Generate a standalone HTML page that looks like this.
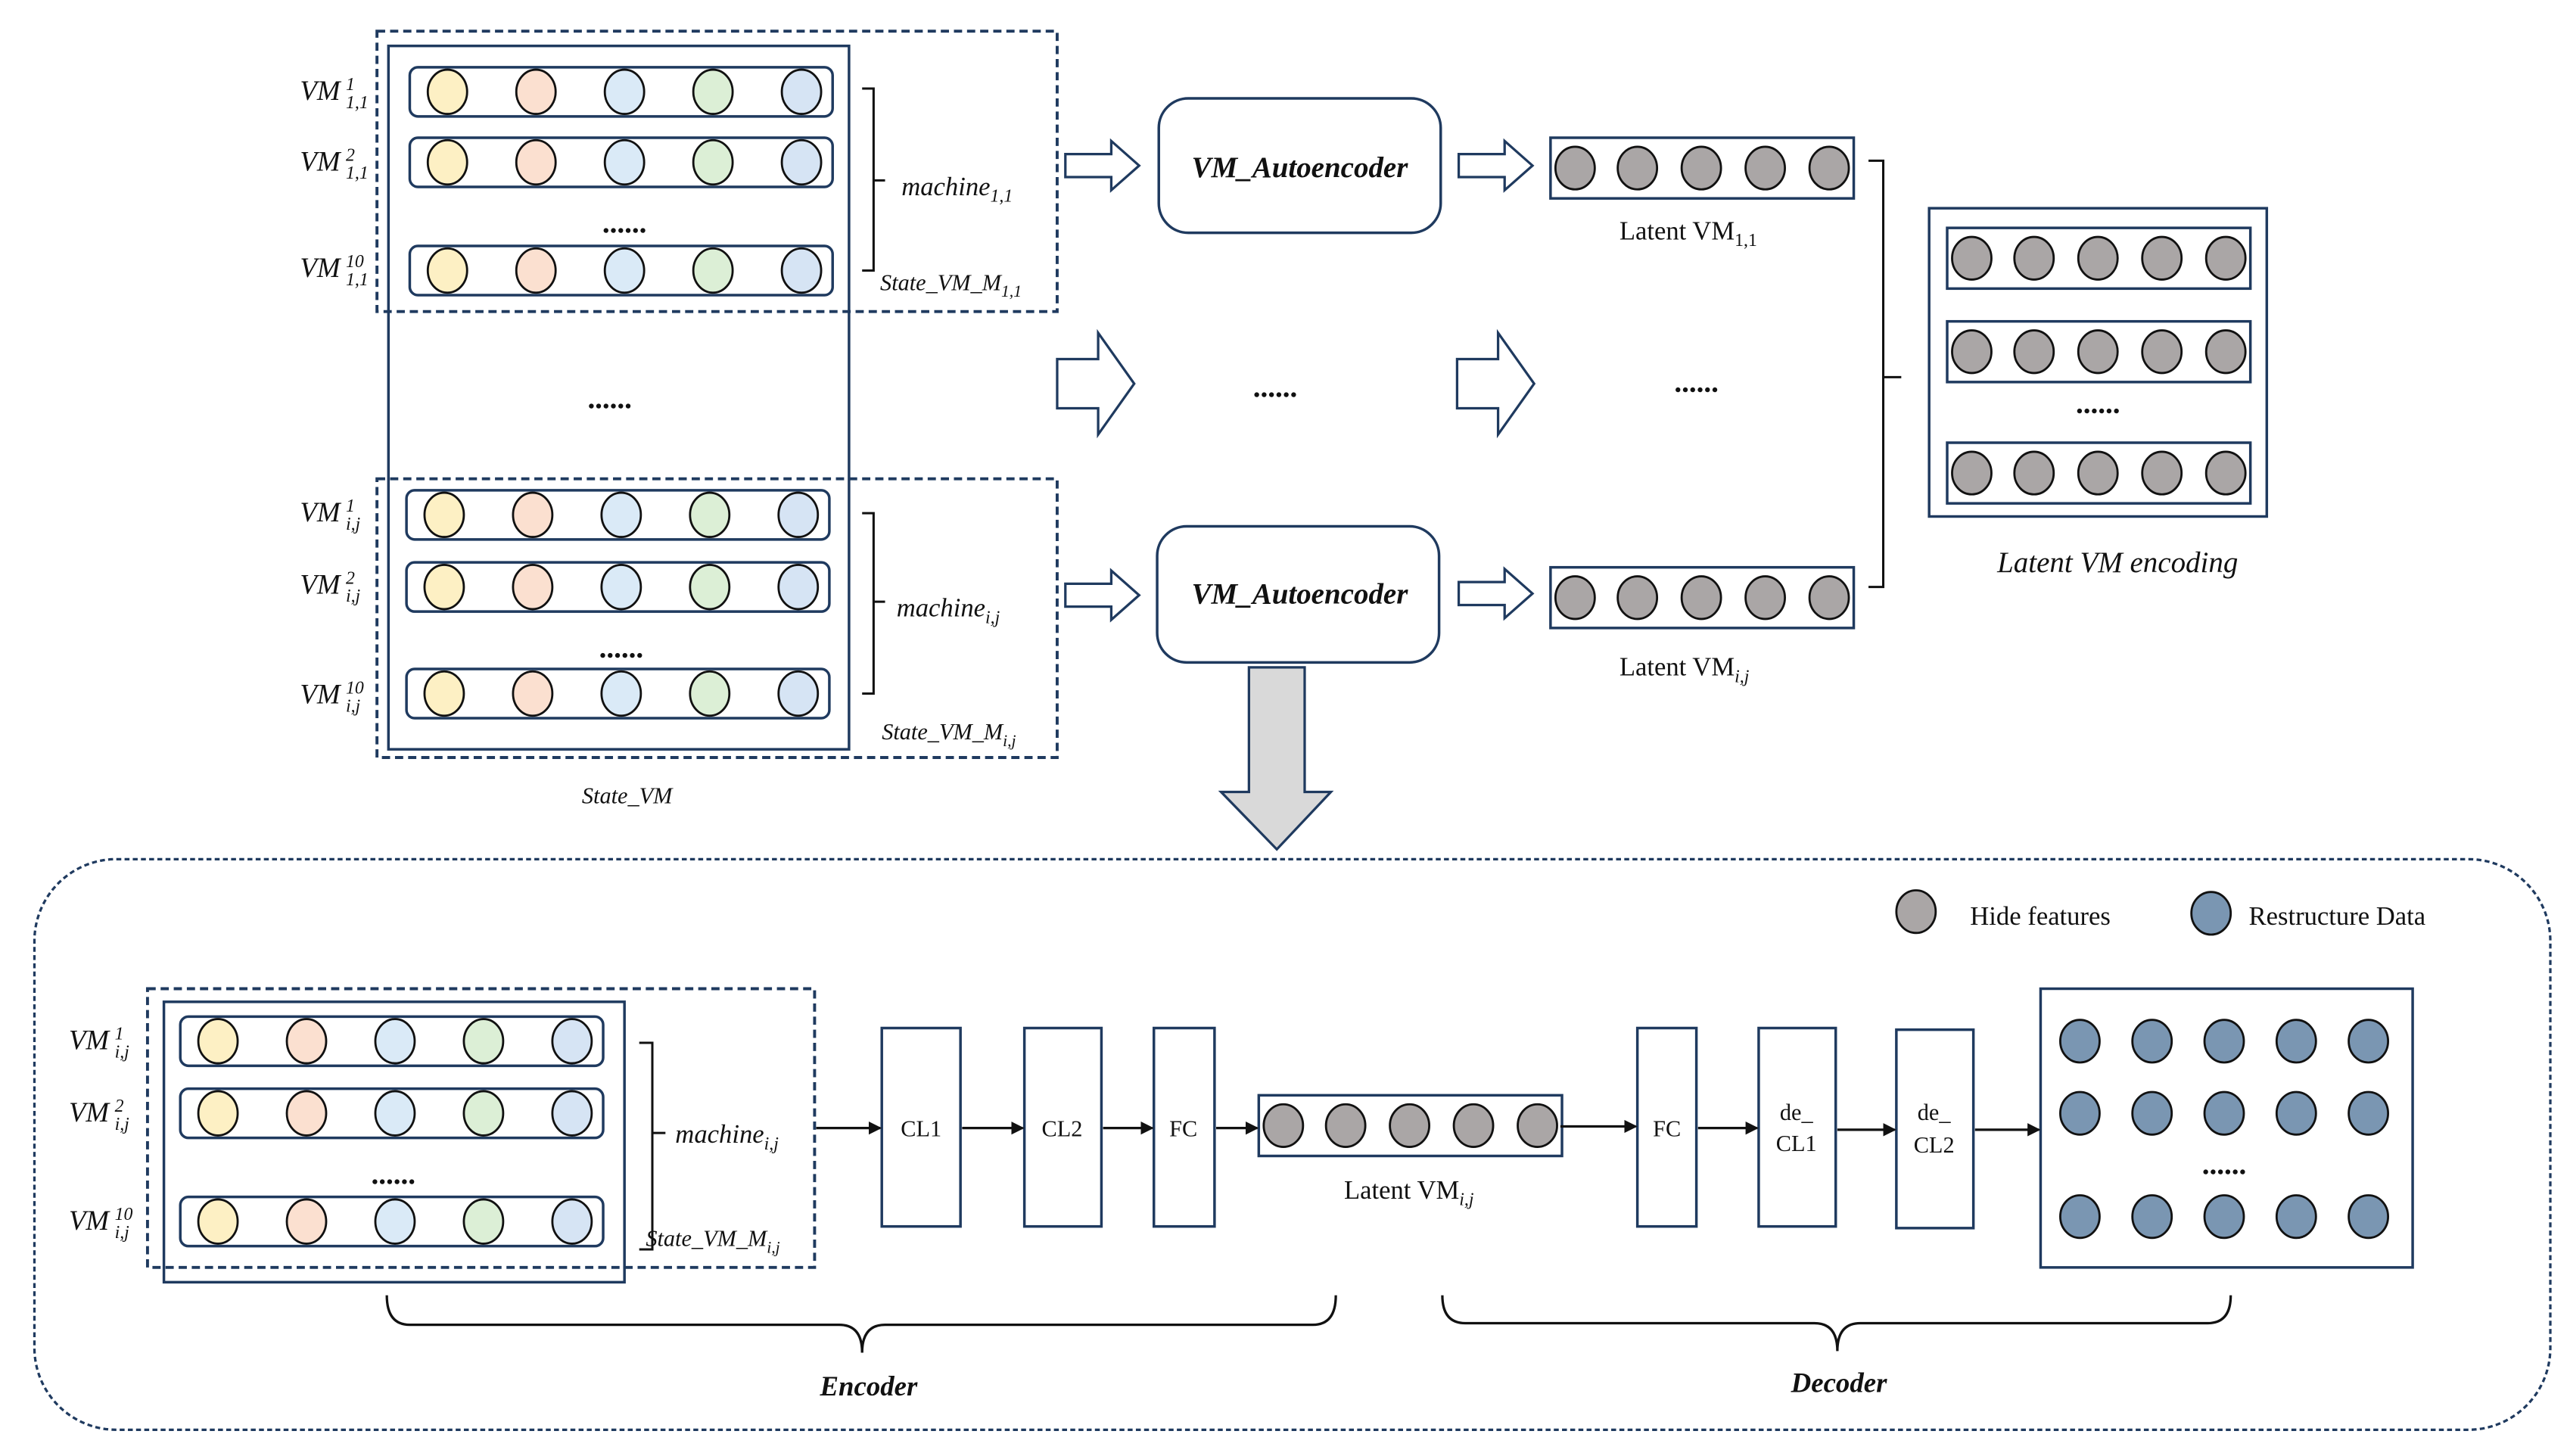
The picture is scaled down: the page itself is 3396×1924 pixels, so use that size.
<!DOCTYPE html>
<html><head><meta charset="utf-8"><style>
html,body{margin:0;padding:0;background:#fff;}
svg{display:block;}
text{font-family:"Liberation Serif",serif;fill:#111;}
.it{font-style:italic;}
</style></head><body>
<svg width="3396" height="1924" viewBox="0 0 1568 888" preserveAspectRatio="none" xmlns="http://www.w3.org/2000/svg">
<defs>
<g id="crow">
<rect x="0" y="0" width="258" height="30" rx="5" fill="#fff" stroke="#1f3a5f" stroke-width="1.6"/>
<ellipse cx="23" cy="15" rx="12" ry="13.5" fill="#fdf0c4" stroke="#111" stroke-width="1.3"/>
<ellipse cx="77" cy="15" rx="12" ry="13.5" fill="#fbe0d0" stroke="#111" stroke-width="1.3"/>
<ellipse cx="131" cy="15" rx="12" ry="13.5" fill="#daeaf7" stroke="#111" stroke-width="1.3"/>
<ellipse cx="185" cy="15" rx="12" ry="13.5" fill="#dcefd6" stroke="#111" stroke-width="1.3"/>
<ellipse cx="239" cy="15" rx="12" ry="13.5" fill="#d6e4f4" stroke="#111" stroke-width="1.3"/>
</g>
<g id="grow">
<rect x="0" y="0" width="185" height="37" fill="#fff" stroke="#1f3a5f" stroke-width="1.6"/>
<ellipse cx="15" cy="18.5" rx="12" ry="13" fill="#aaa6a6" stroke="#111" stroke-width="1.3"/>
<ellipse cx="53" cy="18.5" rx="12" ry="13" fill="#aaa6a6" stroke="#111" stroke-width="1.3"/>
<ellipse cx="92" cy="18.5" rx="12" ry="13" fill="#aaa6a6" stroke="#111" stroke-width="1.3"/>
<ellipse cx="131" cy="18.5" rx="12" ry="13" fill="#aaa6a6" stroke="#111" stroke-width="1.3"/>
<ellipse cx="170" cy="18.5" rx="12" ry="13" fill="#aaa6a6" stroke="#111" stroke-width="1.3"/>
</g>
<path id="sarr" d="M0,-7 L28,-7 L28,-15 L45,0 L28,15 L28,7 L0,7 Z" fill="#fff" stroke="#1f3a5f" stroke-width="1.5"/>
<path id="barr" d="M0,-15 L25,-15 L25,-31 L47,0 L25,31 L25,15 L0,15 Z" fill="#fff" stroke="#1f3a5f" stroke-width="1.5"/>
<marker id="ah" markerWidth="8" markerHeight="8" refX="7" refY="4" orient="auto" markerUnits="userSpaceOnUse"><path d="M0,0 L8,4 L0,8 Z" fill="#111"/></marker>
<g id="brow">
<ellipse cx="0" cy="0" rx="12" ry="13" fill="#7a96b2" stroke="#111" stroke-width="1.3"/>
<ellipse cx="44" cy="0" rx="12" ry="13" fill="#7a96b2" stroke="#111" stroke-width="1.3"/>
<ellipse cx="88" cy="0" rx="12" ry="13" fill="#7a96b2" stroke="#111" stroke-width="1.3"/>
<ellipse cx="132" cy="0" rx="12" ry="13" fill="#7a96b2" stroke="#111" stroke-width="1.3"/>
<ellipse cx="176" cy="0" rx="12" ry="13" fill="#7a96b2" stroke="#111" stroke-width="1.3"/>
</g>
</defs>

<!-- TOP: State_VM -->
<rect x="237" y="28" width="281" height="429" fill="none" stroke="#1f3a5f" stroke-width="1.6"/>
<rect x="230" y="19" width="415" height="171" fill="none" stroke="#1f3a5f" stroke-width="1.8" stroke-dasharray="5,3"/>
<rect x="230" y="292" width="415" height="170" fill="none" stroke="#1f3a5f" stroke-width="1.8" stroke-dasharray="5,3"/>
<use href="#crow" x="250" y="41"/>
<use href="#crow" x="250" y="84"/>
<use href="#crow" x="250" y="150"/>
<use href="#crow" x="248" y="299"/>
<use href="#crow" x="248" y="343"/>
<use href="#crow" x="248" y="408"/>
<text x="381" y="142" font-size="18" text-anchor="middle" font-weight="bold">......</text>
<text x="372" y="249" font-size="18" text-anchor="middle" font-weight="bold">......</text>
<text x="379" y="401" font-size="18" text-anchor="middle" font-weight="bold">......</text>

<g class="it">
<text x="183" y="61" font-size="17">VM</text><text x="211" y="55" font-size="11">1</text><text x="211" y="66" font-size="11">1,1</text>
<text x="183" y="104" font-size="17">VM</text><text x="211" y="98" font-size="11">2</text><text x="211" y="109" font-size="11">1,1</text>
<text x="183" y="169" font-size="17">VM</text><text x="211" y="163" font-size="11">10</text><text x="211" y="174" font-size="11">1,1</text>
<text x="183" y="318" font-size="17">VM</text><text x="211" y="312" font-size="11">1</text><text x="211" y="323" font-size="11">i,j</text>
<text x="183" y="362" font-size="17">VM</text><text x="211" y="356" font-size="11">2</text><text x="211" y="367" font-size="11">i,j</text>
<text x="183" y="429" font-size="17">VM</text><text x="211" y="423" font-size="11">10</text><text x="211" y="434" font-size="11">i,j</text>
<text x="550" y="119" font-size="16">machine<tspan font-size="11" dy="4">1,1</tspan></text>
<text x="547" y="376" font-size="16">machine<tspan font-size="11" dy="4">i,j</tspan></text>
<text x="537" y="177" font-size="14">State_VM_M<tspan font-size="10" dy="4">1,1</tspan></text>
<text x="538" y="451" font-size="14">State_VM_M<tspan font-size="10" dy="4">i,j</tspan></text>
<text x="355" y="490" font-size="14">State_VM</text>
</g>
<path d="M526,54 L533,54 L533,165 L526,165 M533,110 L540,110" fill="none" stroke="#111" stroke-width="1.4"/>
<path d="M526,313 L533,313 L533,423 L526,423 M533,367 L540,367" fill="none" stroke="#111" stroke-width="1.4"/>

<!-- arrows -->
<use href="#sarr" x="650" y="101"/>
<use href="#sarr" x="890" y="101"/>
<use href="#barr" x="645" y="234"/>
<use href="#barr" x="889" y="234"/>
<use href="#sarr" x="650" y="363"/>
<use href="#sarr" x="890" y="362"/>

<rect x="707" y="60" width="172" height="82" rx="18" fill="#fff" stroke="#1f3a5f" stroke-width="1.6"/>
<rect x="706" y="321" width="172" height="83" rx="18" fill="#fff" stroke="#1f3a5f" stroke-width="1.6"/>
<text x="793" y="108" font-size="18" class="it" font-weight="bold" text-anchor="middle">VM_Autoencoder</text>
<text x="793" y="368" font-size="18" class="it" font-weight="bold" text-anchor="middle">VM_Autoencoder</text>
<text x="778" y="242" font-size="18" text-anchor="middle" font-weight="bold">......</text>
<text x="1035" y="239" font-size="18" text-anchor="middle" font-weight="bold">......</text>

<use href="#grow" x="946" y="84"/>
<use href="#grow" x="946" y="346"/>
<text x="988" y="146" font-size="16">Latent VM<tspan font-size="11" dy="4">1,1</tspan></text>
<text x="988" y="412" font-size="16">Latent VM<tspan font-size="11" dy="4" class="it">i,j</tspan></text>
<path d="M1140,98 L1149,98 L1149,358 L1140,358 M1149,230 L1160,230" fill="none" stroke="#111" stroke-width="1.4"/>

<rect x="1177" y="127" width="206" height="188" fill="#fff" stroke="#1f3a5f" stroke-width="1.6"/>
<use href="#grow" x="1188" y="139"/>
<use href="#grow" x="1188" y="196"/>
<use href="#grow" x="1188" y="270"/>
<text x="1280" y="252" font-size="18" text-anchor="middle" font-weight="bold">......</text>
<text x="1292" y="349" font-size="18" class="it" text-anchor="middle">Latent VM encoding</text>

<!-- down arrow -->
<path d="M762,407 L796,407 L796,483 L812,483 L779,518 L745,483 L762,483 Z" fill="#d9d9d9" stroke="#1f3a5f" stroke-width="1.5"/>

<!-- BOTTOM -->
<rect x="21" y="524" width="1535" height="348" rx="50" fill="none" stroke="#1f3a5f" stroke-width="1.5" stroke-dasharray="3,2"/>
<ellipse cx="1169" cy="556" rx="12" ry="13" fill="#aaa6a6" stroke="#111" stroke-width="1.3"/>
<text x="1202" y="564" font-size="16">Hide features</text>
<ellipse cx="1349" cy="557" rx="12" ry="13" fill="#7a96b2" stroke="#111" stroke-width="1.3"/>
<text x="1372" y="564" font-size="16">Restructure Data</text>

<rect x="100" y="611" width="281" height="171" fill="none" stroke="#1f3a5f" stroke-width="1.6"/>
<rect x="90" y="603" width="407" height="170" fill="none" stroke="#1f3a5f" stroke-width="1.8" stroke-dasharray="5,3"/>
<use href="#crow" x="110" y="620"/>
<use href="#crow" x="110" y="664"/>
<use href="#crow" x="110" y="730"/>
<text x="240" y="722" font-size="18" text-anchor="middle" font-weight="bold">......</text>
<g class="it">
<text x="42" y="640" font-size="17">VM</text><text x="70" y="634" font-size="11">1</text><text x="70" y="645" font-size="11">i,j</text>
<text x="42" y="684" font-size="17">VM</text><text x="70" y="678" font-size="11">2</text><text x="70" y="689" font-size="11">i,j</text>
<text x="42" y="750" font-size="17">VM</text><text x="70" y="744" font-size="11">10</text><text x="70" y="755" font-size="11">i,j</text>
<text x="412" y="697" font-size="16">machine<tspan font-size="11" dy="4">i,j</tspan></text>
<text x="394" y="760" font-size="14">State_VM_M<tspan font-size="10" dy="4">i,j</tspan></text>
</g>
<path d="M390,636 L398,636 L398,762 L390,762 M398,691 L406,691" fill="none" stroke="#111" stroke-width="1.4"/>

<g fill="#fff" stroke="#1f3a5f" stroke-width="1.6">
<rect x="538" y="627" width="48" height="121"/>
<rect x="625" y="627" width="47" height="121"/>
<rect x="704" y="627" width="37" height="121"/>
<rect x="999" y="627" width="36" height="121"/>
<rect x="1073" y="627" width="47" height="121"/>
<rect x="1157" y="628" width="47" height="121"/>
<rect x="1245" y="603" width="227" height="170"/>
</g>
<g font-size="14" text-anchor="middle">
<text x="562" y="693">CL1</text>
<text x="648" y="693">CL2</text>
<text x="722" y="693">FC</text>
<text x="1017" y="693">FC</text>
<text x="1096" y="683">de_</text><text x="1096" y="702">CL1</text>
<text x="1180" y="683">de_</text><text x="1180" y="703">CL2</text>
</g>
<use href="#grow" x="768" y="668"/>
<text x="820" y="731" font-size="16">Latent VM<tspan font-size="11" dy="4" class="it">i,j</tspan></text>

<g stroke="#111" stroke-width="1.5" marker-end="url(#ah)">
<line x1="498" y1="688" x2="537" y2="688"/>
<line x1="587" y1="688" x2="624" y2="688"/>
<line x1="673" y1="688" x2="703" y2="688"/>
<line x1="742" y1="688" x2="767" y2="688"/>
<line x1="952" y1="687" x2="998" y2="687"/>
<line x1="1036" y1="688" x2="1072" y2="688"/>
<line x1="1121" y1="689" x2="1156" y2="689"/>
<line x1="1205" y1="689" x2="1244" y2="689"/>
</g>

<use href="#brow" x="1269" y="635"/>
<use href="#brow" x="1269" y="679"/>
<use href="#brow" x="1269" y="742"/>
<text x="1357" y="716" font-size="18" text-anchor="middle" font-weight="bold">......</text>

<path d="M236,790 Q236,808 250,808 L512,808 Q526,808 526,825 Q526,808 540,808 L801,808 Q815,808 815,790" fill="none" stroke="#111" stroke-width="1.5"/>
<path d="M880,790 Q880,807 894,807 L1107,807 Q1121,807 1121,824 Q1121,807 1135,807 L1347,807 Q1361,807 1361,790" fill="none" stroke="#111" stroke-width="1.5"/>
<text x="530" y="851" font-size="17" class="it" font-weight="bold" text-anchor="middle">Encoder</text>
<text x="1122" y="849" font-size="17" class="it" font-weight="bold" text-anchor="middle">Decoder</text>
</svg>
</body></html>
